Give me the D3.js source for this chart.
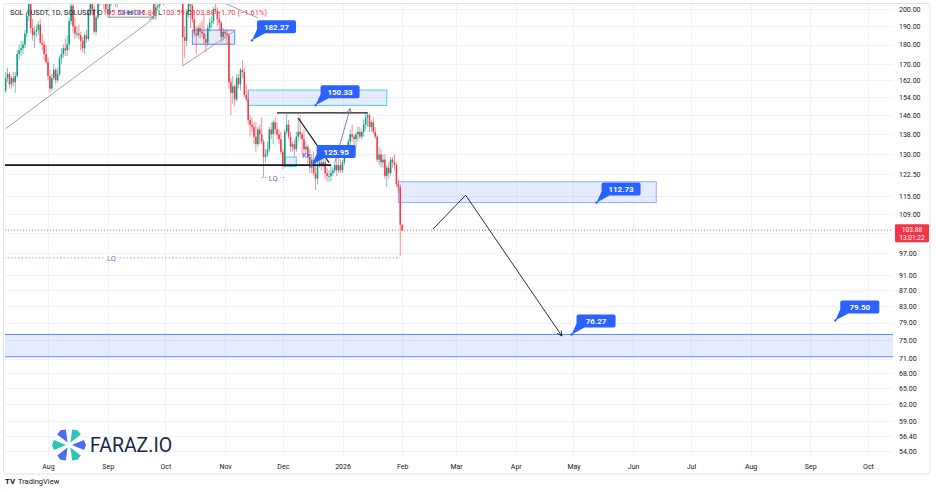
<!DOCTYPE html>
<html><head><meta charset="utf-8">
<script src="https://cdn.jsdelivr.net/npm/d3@7/dist/d3.min.js"></script>
<style>
html,body{margin:0;padding:0;background:#fff;}
svg{display:block;font-family:Roboto,"Open Sans",Arial,sans-serif;}
</style></head><body>
<svg id="c" width="936" height="492"></svg>
<script>
// ---------------- DATA ----------------
const startDate = "2025-07-10"; // first daily candle, one candle per day
const opens = [
157,163,165,160,163,161,164,175,177,178,180,186,196,204,189,185,187,188,191,181,180,175,
171,164,158,163,167,162,165,173,175,178,177,180,193,202,190,186,186,185,182,178,185,183,198,204,200,187,195,204,212,206,203,
200,197,204,210,205,203,204,206,214,217,223,228,238,242,239,234,236,239,246,238,240,235,222,215,210,196,201,202,207,211,
209,220,224,232,227,230,233,222,224,218,184,182,198,207,202,194,186,185,189,187,186,183,181,189,192,193,200,199,194,192,184,
187,186,185,161,156,159,153,163,160,167,166,155,153,144,142,141,137,134,140,138,135,129,130,132,140,138,143,140,138,136,
131,126,139,142,137,133,134,132,137,139,138,136,132,133,129,125,128,123,121,126,127,126,127,123,122,122,123,124,126,124,126,
124,127,131,132,135,138,137,136,138,139,137,139,142,145,146,141,143,139,137,128,130,127,128,122,125,123,128,127,126,119,118,105.58];
const highs = [
166,168,166,164,166,166,177,180,182,182,188,198,207,206,194,190,191,193,194,186,182,180,
173,167,165,170,168,168,174,178,180,183,185,195,205,209,195,190,191,187,184,186,188,200,207,206,202,196,206,214,214,209,206,
203,206,212,211,208,206,208,216,220,226,230,240,246,245,243,237,241,253,248,243,242,236,224,219,212,203,204,209,214,213,
222,228,234,233,235,237,236,227,225,222,190,200,210,209,207,199,190,191,192,193,197,186,191,195,196,201,206,201,199,193,189,
188,188,186,163,164,160,165,165,168,172,168,160,157,146,145,143,143,141,142,145,136,132,135,141,143,144,145,143,140,139,
132,140,146.5,144,139,135,136,139,145,146,139,140,135,134,132,130,131,129,128,128,128,131,128,125,124,126,125,127,130,129,128,
128,132,133,136,140,142,138,139,141,141,140,144,147,147.5,147,144,145,141,138,133,132,130,130,126,127,129,129,130,127,121,119,105.84];
const lows = [
156,161,158,158,159,156,163,172,174,175,178,184,193,186,182,178,184,185,180,177,172,170,
162,156,157,162,160,161,164,170,173,174,174,177,191,186,183,184,183,177,176,175,181,182,196,196,186,185,194,202,203,200,198,
195.5,195,202,203,201,201,203,205,212,215,221,226,236,236,230,230,230,238,236,236,233,217,212,206,194,193.5,199,200,205,202,
208,218,222,224,226,228,220,218,214,169,173,179,195,189,192,184,175,184,183,184,180,176,179,187,189,191,197,190,188,181,182,
183,180,158,146,151,150,152,158,157,163,154,152,142,137,139,134,131,133,134,134,121.5,127,129,131,136,134,138,136,134,130,
124.5,125,138,136,131,131,129,131,135,136,130,129,130,126,123,123,122,117,119,125,124,125,121,120,120,120,122,123,122,123,123,
123,126,129,131,133,135,133,133,135,136,136,137,140,141,139,139,138,136,127,126,125,125,121,118,121,122,125,124,118,116,96.3,103.59];
const closes = [
163,165,160,163,161,164,175,177,178,180,186,196,204,189,185,187,188,191,181,180,175,171,
164,158,163,167,162,165,173,175,178,177,180,193,202,190,186,186,185,182,178,185,183,198,204,200,187,195,204,212,206,203,200,
197,204,210,205,203,204,206,214,217,223,228,238,242,239,234,236,239,246,238,240,235,222,215,210,196,201,202,207,211,209,
220,224,232,227,230,233,222,224,218,184,182,198,207,202,194,186,185,189,187,186,183,181,189,192,193,200,199,194,192,184,187,
186,185,161,156,159,153,163,160,167,166,155,153,144,142,141,137,134,140,138,135,129,130,132,140,138,143,140,138,136,131,
126,139,142,137,133,134,132,137,139,138,136,132,133,129,125,128,123,121,126,127,126,127,123,122,122,123,124,126,124,126,124,
127,131,132,135,138,137,136,138,139,137,139,142,145,146,141,143,139,137,128,130,127,128,122,125,123,128,127,126,119,118,105.58,103.88];

const priceTicks = [200,190,180,170,162,154,146,138,130,122.5,115,109,103,97,91,87,83,79,75,71,68,65,62,59,56.4,54];
const hiddenTick = 103; // covered by the last-price label in the reference
const monthTicks = ["2025-08-01","2025-09-01","2025-10-01","2025-11-01","2025-12-01","2026-01-01","2026-02-01","2026-03-01","2026-04-01","2026-05-01","2026-06-01","2026-07-01","2026-08-01","2026-09-01","2026-10-01"];
const monthLabels = ["Aug","Sep","Oct","Nov","Dec","2026","Feb","Mar","Apr","May","Jun","Jul","Aug","Sep","Oct"];
const lastPrice = 103.88;
const countdown = "13:01:22";

// annotation drawings (date, price)
const zones = [
  {d0:"2025-10-15", d1:"2025-11-06", p0:187.9, p1:180.2, stroke:"#5b86f5"},
  {d0:"2025-11-13", d1:"2026-01-24", p0:157.3, p1:150.33, stroke:"#4dd0e1"},
  {d0:"2025-12-02", d1:"2025-12-08", p0:129.0, p1:125.4, stroke:"#4dd0e1"},
  {d0:"2026-01-30", d1:"2026-06-13", p0:119.9, p1:112.73, stroke:"#8fb0f7"},
  {d0:"2025-06-01", d1:"2026-12-31", p0:76.27, p1:71.4, stroke:"#5b86f5"}
];
const priceLabels = [
  {d:"2025-11-15", p:182.27, t:"182.27"},
  {d:"2025-12-18", p:150.33, t:"150.33"},
  {d:"2025-12-16", p:125.95, t:"125.95"},
  {d:"2026-05-13", p:112.73, t:"112.73"},
  {d:"2026-04-30", p:76.27, t:"76.27"},
  {d:"2026-09-14", p:79.50, t:"79.50"}
];
const grayLines = [
  [["2025-07-10",140.3],["2025-09-26",195.4]],
  [["2025-10-10",169],["2025-11-06",187.5]],
  [["2025-10-19",210.2],["2025-11-18",194.8]]
];
const blackLines = [
  {pts:[["2025-06-01",125.95],["2025-12-26",125.95]], w:1.8},
  {pts:[["2025-11-28",147],["2026-01-14",147]], w:1.2},
  {pts:[["2025-12-09",144.8],["2025-12-25",126.9]], w:1.2}
];
const arrows = [
  {pts:[["2025-09-01",195.2],["2025-09-25",195.2]], c:"#787b86"},
  {pts:[["2025-12-28",127],["2026-01-05",149]], c:"#787b86"},
  {pts:[["2026-02-17",104.2],["2026-03-06",115.2],["2026-04-25",75.9]], c:"#131722"}
];
const lqLines = [
  {d0:"2025-11-20", d1:"2025-12-02", p:121.4, td:"2025-11-26"},
  {d0:"2025-06-01", d1:"2026-01-31", p:95.7, td:"2025-09-03"}
];

// ---------------- CHART ----------------
const parse = d3.timeParse("%Y-%m-%d");
const plot = {l:5, r:893, t:4, b:458};
const x = d3.scaleTime().domain([parse("2025-08-01"), parse("2026-10-01")]).range([48, 868]);
const y = d3.scaleLog().domain([200, 54]).range([9, 451]);
const up = "#089981", down = "#f23645";

const svg = d3.select("#c");
svg.append("rect").attr("x",3.5).attr("y",3.5).attr("width",926.5).attr("height",470.5)
  .attr("rx",3).attr("fill","#fff").attr("stroke","#e0e3eb");

const defs = svg.append("defs");
defs.append("clipPath").attr("id","clip").append("rect")
  .attr("x",plot.l).attr("y",plot.t).attr("width",plot.r-plot.l).attr("height",plot.b-plot.t);
["g","k"].forEach(id=>{
  defs.append("marker").attr("id","arr"+id).attr("viewBox","0 0 10 10").attr("refX",9).attr("refY",5)
    .attr("markerWidth",7).attr("markerHeight",7).attr("orient","auto-start-reverse")
    .append("path").attr("d","M1,1 L9,5 L1,9").attr("fill","none")
    .attr("stroke", id==="g" ? "#787b86" : "#131722").attr("stroke-width",1.2);
});

// grid
const grid = svg.append("g");
grid.selectAll("line.h").data(priceTicks).join("line")
  .attr("x1",plot.l).attr("x2",plot.r).attr("y1",d=>Math.round(y(d))+0.5).attr("y2",d=>Math.round(y(d))+0.5)
  .attr("stroke","#f0f3fa");
grid.selectAll("line.v").data(monthTicks).join("line")
  .attr("x1",d=>Math.round(x(parse(d)))+0.5).attr("x2",d=>Math.round(x(parse(d)))+0.5)
  .attr("y1",plot.t).attr("y2",plot.b).attr("stroke","#f0f3fa");

const pg = svg.append("g").attr("clip-path","url(#clip)");

// zones
pg.selectAll("rect.zone").data(zones).join("rect")
  .attr("x",d=>x(parse(d.d0))).attr("width",d=>x(parse(d.d1))-x(parse(d.d0)))
  .attr("y",d=>y(d.p0)).attr("height",d=>y(d.p1)-y(d.p0))
  .attr("fill","rgba(41,98,255,0.12)").attr("stroke",d=>d.stroke).attr("stroke-width",1);

// candles
const start = parse(startDate);
const candles = closes.map((c,i)=>({date:d3.timeDay.offset(start,i), o:opens[i], h:highs[i], l:lows[i], c}));
const cg = pg.append("g");
cg.selectAll("line").data(candles).join("line")
  .attr("x1",d=>x(d.date)).attr("x2",d=>x(d.date))
  .attr("y1",d=>y(d.h)).attr("y2",d=>y(d.l))
  .attr("stroke",d=>d.c>=d.o?up:down).attr("stroke-width",0.8).attr("opacity",0.7);
cg.selectAll("rect").data(candles).join("rect")
  .attr("x",d=>x(d.date)-0.75).attr("width",1.5)
  .attr("y",d=>y(Math.max(d.o,d.c)))
  .attr("height",d=>Math.max(1,Math.abs(y(d.o)-y(d.c))))
  .attr("fill",d=>d.c>=d.o?up:down);

const lineGen = d3.line().x(p=>x(parse(p[0]))).y(p=>y(p[1]));

// gray trend lines
pg.selectAll("path.gl").data(grayLines).join("path")
  .attr("d",lineGen).attr("fill","none").attr("stroke","#9598a1").attr("stroke-width",0.9);
// black lines
pg.selectAll("path.bl").data(blackLines).join("path")
  .attr("d",d=>lineGen(d.pts)).attr("fill","none").attr("stroke","#131722").attr("stroke-width",d=>d.w);
// arrows
pg.selectAll("path.ar").data(arrows).join("path")
  .attr("d",d=>lineGen(d.pts)).attr("fill","none").attr("stroke",d=>d.c).attr("stroke-width",0.9)
  .attr("marker-end",d=>d.c==="#131722"?"url(#arrk)":"url(#arrg)");

// LQ lines
lqLines.forEach(l=>{
  pg.append("line").attr("x1",x(parse(l.d0))).attr("x2",x(parse(l.d1)))
    .attr("y1",y(l.p)).attr("y2",y(l.p)).attr("stroke","#7f8fc9").attr("stroke-width",0.8).attr("stroke-dasharray","1.5,2");
  const tx = x(parse(l.td));
  pg.append("rect").attr("x",tx-7).attr("y",y(l.p)-4).attr("width",14).attr("height",8).attr("fill","#fff");
  pg.append("text").attr("x",tx).attr("y",y(l.p)+3).attr("text-anchor","middle")
    .attr("font-size",7.5).attr("fill","#5a6fc4").text("LQ");
});

// current price line
pg.append("line").attr("x1",plot.l).attr("x2",plot.r).attr("y1",y(lastPrice)).attr("y2",y(lastPrice))
  .attr("stroke",down).attr("stroke-width",0.8).attr("stroke-dasharray","1,2");

// "Key Level" text (mostly covered by the 125.95 label)
pg.append("text").attr("x",x(parse("2025-12-11"))).attr("y",y(128.6)).attr("font-size",7.5).attr("fill","#2962ff").text("Ke");

// price labels
const lg = pg.append("g");
priceLabels.forEach(l=>{
  const ax = x(parse(l.d)), ay = y(l.p);
  const bw = 39, bh = 13, bx = ax+5, by = ay-7-bh;
  const g = lg.append("g");
  g.append("path").attr("d",`M${ax},${ay} L${bx},${by+bh-4} L${bx+8},${by+bh} Z`).attr("fill","#2962ff");
  g.append("rect").attr("x",bx).attr("y",by).attr("width",bw).attr("height",bh).attr("rx",2).attr("fill","#2962ff");
  g.append("circle").attr("cx",ax).attr("cy",ay).attr("r",1.2).attr("fill","#2962ff");
  g.append("text").attr("x",bx+bw/2).attr("y",by+bh/2+3).attr("text-anchor","middle")
    .attr("font-size",8).attr("font-weight","bold").attr("fill","#fff").text(l.t);
});

// header legend
const hd = svg.append("text").attr("x",10).attr("y",15).attr("font-size",7.5).attr("fill","#131722");
hd.append("tspan").text("SOL / USDT, 1D, SOLUSDT  ");
[["O","105.58"],["H","105.84"],["L","103.59"],["C","103.88"]].forEach(([k,v])=>{
  hd.append("tspan").text(" "+k);
  hd.append("tspan").attr("fill",down).text(v);
});
hd.append("tspan").attr("fill",down).text("  −1.70 (−1.61%)");

// CHoCH text (drawn over the legend as in the reference)
svg.append("text").attr("x",(x(parse(arrows[0].pts[0][0]))+x(parse(arrows[0].pts[1][0])))/2)
  .attr("y",y(195.2)-2.5).attr("text-anchor","middle").attr("font-size",8).attr("fill","#3f5fd9").text("CHoCH");

// price axis
const ya = svg.append("g").attr("transform",`translate(${plot.r+6},0)`)
  .call(d3.axisRight(y).tickValues(priceTicks.filter(t=>t!==hiddenTick)).tickFormat(d3.format(".2f")).tickSize(0).tickPadding(0));
ya.select(".domain").remove();
ya.selectAll("text").attr("font-size",7).attr("fill","#131722").attr("font-family","Roboto,Arial,sans-serif");

// time axis
const xa = svg.append("g").attr("transform",`translate(0,${plot.b+6})`)
  .call(d3.axisBottom(x).tickValues(monthTicks.map(parse)).tickFormat((d,i)=>monthLabels[i]).tickSize(0).tickPadding(0));
xa.select(".domain").remove();
xa.selectAll("text").attr("font-size",7).attr("fill","#131722").attr("font-family","Roboto,Arial,sans-serif");

// last price label
const ly = y(lastPrice);
svg.append("rect").attr("x",895).attr("y",ly-6).attr("width",34).attr("height",18).attr("fill",down).attr("rx",1);
svg.append("text").attr("x",912).attr("y",ly+1.8).attr("text-anchor","middle").attr("font-size",6.6).attr("fill","#fff").text(lastPrice.toFixed(2));
svg.append("text").attr("x",912).attr("y",ly+9.8).attr("text-anchor","middle").attr("font-size",6.6).attr("fill","#fff").text(countdown);

// watermark logo
const lgo = svg.append("g").attr("transform","translate(69,445)");
[[0,"#2ec4b6"],[60,"#4e6cf2"],[120,"#2ec4b6"],[180,"#4e6cf2"],[240,"#2ec4b6"],[300,"#4e6cf2"]].forEach(([a,c])=>{
  lgo.append("path").attr("d","M0,-3 L5,-15 L0,-17 L-5,-15 Z").attr("fill",c).attr("transform",`rotate(${a+30})`);
});
svg.append("text").attr("x",90).attr("y",452).attr("font-size",19.5).attr("fill","#1b2845").attr("font-family","Roboto,Arial,sans-serif").text("FARAZ.IO");

// TradingView footer
svg.append("text").attr("x",5).attr("y",484).attr("font-size",8).attr("font-weight","bold").attr("fill","#131722").text("TV");
svg.append("text").attr("x",18).attr("y",484).attr("font-size",7.5).attr("fill","#131722").text("TradingView");
</script>
</body></html>
